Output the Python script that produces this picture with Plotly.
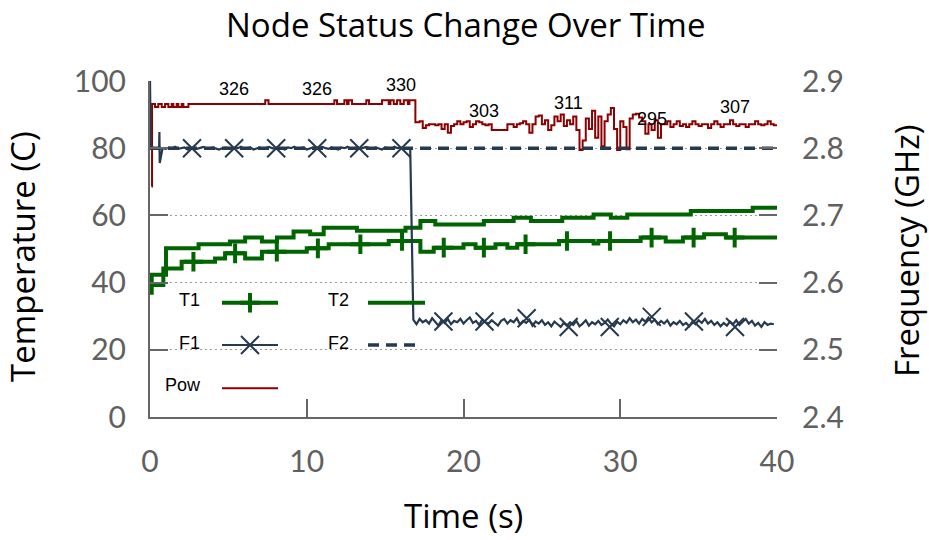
import numpy as np
import plotly.graph_objects as go

# ---------------- data ----------------
x_ticks = [0, 10, 20, 30, 40]
temp_ticks = [0, 20, 40, 60, 80, 100]
freq_ticks = [2.4, 2.5, 2.6, 2.7, 2.8, 2.9]

# Temperature T1 (step) and T2 (step), deg C
t1_time = [0, 0.85, 2.02, 4.15, 4.79, 6.07, 7.14, 10.0, 11.4, 15.23, 17.25, 18.1, 20.0, 20.77,
           22.04, 22.8, 23.43, 26.1, 28.3, 28.6, 31.3, 32.9, 34.0, 35.35, 36.74, 40.0]
t1_temp = [39.3, 44.2, 46.2, 47.2, 48.7, 47.2, 49.2, 50.2, 51.4, 52.4, 49.2, 50.4, 51.4, 50.4,
           51.4, 50.4, 51.4, 52.4, 51.6, 52.4, 53.4, 52.2, 53.4, 54.4, 53.4, 53.4]
t1_marker_time = [0.11, 2.77, 5.43, 8.09, 10.71, 13.42, 16.08, 18.74, 21.3, 23.96, 26.6,
                  29.35, 32.0, 34.68, 37.3]

t2_time = [0, 1.02, 3.1, 5.1, 6.07, 7.14, 8.1, 9.16, 10.22, 11.08, 13.2, 16.3, 17.25, 18.2,
           21.3, 23.2, 24.3, 26.3, 28.3, 29.4, 30.45, 34.5, 38.45, 40.0]
t2_temp = [42.3, 50.2, 51.4, 52.2, 53.4, 52.2, 53.4, 55.2, 54.4, 56.3, 55.4, 56.3, 58.3, 57.3,
           58.3, 59.3, 58.3, 59.3, 60.3, 59.3, 60.3, 61.3, 62.3, 62.3]

# Frequency F1 (GHz): start transient, then samples every 0.2 s
f1_time_head = [0.0, 0.05, 0.58, 0.60, 0.62]
f1_ghz_head = [2.900, 2.800, 2.800, 2.824, 2.778]
f1_sample_start = 0.8
f1_sample_step = 0.2
f1_ghz_samples = [
    2.800, 2.799, 2.801, 2.800, 2.802,
    2.799, 2.800, 2.801, 2.798, 2.800, 2.801, 2.799, 2.800, 2.802, 2.800,
    2.799, 2.801, 2.800, 2.798, 2.800, 2.801, 2.800, 2.799, 2.801, 2.800,
    2.802, 2.799, 2.800, 2.801, 2.798, 2.800, 2.801, 2.799, 2.800, 2.802,
    2.800, 2.799, 2.801, 2.800, 2.798, 2.801, 2.800, 2.802, 2.799, 2.800,
    2.801, 2.798, 2.800, 2.801, 2.799, 2.800, 2.802, 2.800, 2.799, 2.801,
    2.800, 2.798, 2.801, 2.800, 2.802, 2.799, 2.800, 2.801, 2.799, 2.800,
    2.802, 2.800, 2.799, 2.801, 2.800, 2.798, 2.801, 2.800, 2.799, 2.802,
    2.800, 2.801, 2.799, 2.800, 2.800,
    2.545, 2.538, 2.546, 2.541, 2.544, 2.539, 2.547, 2.542, 2.536, 2.544,
    2.540, 2.546, 2.538, 2.543, 2.541, 2.546, 2.539, 2.544, 2.548, 2.540,
    2.543, 2.537, 2.545, 2.541, 2.539, 2.544, 2.540, 2.536, 2.543, 2.546,
    2.539, 2.544, 2.541, 2.547, 2.538, 2.543, 2.540, 2.545, 2.536, 2.542,
    2.539, 2.544, 2.537, 2.541, 2.535, 2.542, 2.538, 2.534, 2.540, 2.536,
    2.541, 2.537, 2.543, 2.535, 2.539, 2.544, 2.536, 2.541, 2.538, 2.543,
    2.537, 2.540, 2.545, 2.539, 2.535, 2.542, 2.538, 2.544, 2.540, 2.547,
    2.541, 2.545, 2.539, 2.546, 2.542, 2.548, 2.541, 2.545, 2.538, 2.543,
    2.539, 2.544, 2.536, 2.541, 2.538, 2.543, 2.537, 2.540, 2.535, 2.542,
    2.538, 2.544, 2.540, 2.546, 2.539, 2.543, 2.537, 2.541, 2.535, 2.540,
    2.536, 2.542, 2.538, 2.544, 2.537, 2.541, 2.546, 2.539, 2.543, 2.536,
    2.540, 2.534, 2.541, 2.537, 2.539, 2.538,
]
f1_marker_time = [2.68, 5.37, 8.05, 10.67, 13.35, 16.04, 18.72, 21.34, 24.03, 26.71, 29.33,
                  32.01, 34.70, 37.32]
f1_marker_ghz = [2.8, 2.8, 2.8, 2.8, 2.8, 2.8, 2.542, 2.542, 2.547, 2.534, 2.534, 2.549,
                 2.542, 2.534]

# Frequency F2 (constant)
f2_time = [0, 40]
f2_ghz = [2.8, 2.8]

# Power (W), step trace; plotted as W / 3.5 on the temperature axis
power_scale = 3.5
pow_time_head = [0.10, 0.13, 0.32, 0.53, 0.75, 0.96, 1.17, 1.38, 1.49, 1.70, 1.81, 2.02, 2.13,
                 2.45, 7.35, 7.56, 11.76, 11.93, 12.40, 12.57, 12.67, 12.89, 13.80, 13.97,
                 14.80, 15.23, 15.34, 15.55, 15.76, 15.97, 16.19, 16.45, 16.55, 16.93]
pow_watts_head = [240, 326, 323, 326, 323, 326, 323, 326, 323, 326, 323, 326, 323,
                  326, 330, 326, 330, 326, 330, 326, 330, 326, 330, 326,
                  330, 326, 330, 326, 330, 326, 330, 326, 330, 307]
pow_tail_start = 17.0
pow_tail_step = 0.2
pow_watts_tail = [
    307, 308, 301, 304, 305, 305, 304, 305, 300, 305,
    296, 303, 305, 308, 305, 307, 308, 302, 305, 308,
    307, 305, 304, 305, 299, 299, 299, 299, 299, 305,
    305, 302, 305, 306, 308, 305, 296, 305, 313, 314,
    305, 309, 299, 304, 313, 308, 315, 303, 309, 305,
    313, 299, 278, 288, 311, 300, 319, 291, 313, 282,
    308, 315, 322, 300, 278, 308, 302, 279, 311, 315,
    316, 312, 308, 295, 305, 299, 309, 291, 305, 305,
    308, 302, 305, 308, 303, 305, 302, 305, 308, 305,
    303, 305, 305, 301, 305, 308, 305, 302, 305, 305,
    309, 305, 303, 305, 305, 302, 305, 305, 308, 305,
    304, 305, 308, 305, 304, 305,
]
pow_label_time = [5.33, 10.67, 16.0, 21.33, 26.67, 32.0, 37.33]
pow_label_watts = [326, 326, 330, 303, 311, 295, 307]

# ---------------- styling ----------------
GREEN = "#006400"
SLATE = "#263a4f"
RED = "#8b0000"
AXIS = "#666666"
TICKC = "#606060"
FONT = "Lato"
TITLEFONT = "Open Sans"
LEGFONT = "Liberation Sans"
TSIZE = 33

W, H = 929, 540
L, R, T, B = 150, 152, 81, 123
PW, PH = W - L - R, H - T - B


def px(xpix):
    return (xpix - L) / PW


def py(ypix):
    return (H - B - ypix) / PH


f1_time = f1_time_head + list(np.round(f1_sample_start + np.arange(len(f1_ghz_samples)) * f1_sample_step, 3))
f1_ghz = f1_ghz_head + f1_ghz_samples
pow_time = pow_time_head + list(np.round(pow_tail_start + np.arange(len(pow_watts_tail)) * pow_tail_step, 3))
pow_watts = pow_watts_head + pow_watts_tail
pow_scaled = [w / power_scale for w in pow_watts]

idx = np.searchsorted(np.array(t1_time), np.array(t1_marker_time), side="right") - 1
t1_marker_temp = [t1_temp[i] for i in idx]

fig = go.Figure()

fig.add_trace(go.Scatter(x=t1_time, y=t1_temp, mode="lines", line=dict(color=GREEN, width=4, shape="hv")))
fig.add_trace(go.Scatter(x=t1_marker_time, y=t1_marker_temp, mode="markers",
                         marker=dict(symbol="cross-thin", size=14, line=dict(color=GREEN, width=4))))
fig.add_trace(go.Scatter(x=t2_time, y=t2_temp, mode="lines", line=dict(color=GREEN, width=4, shape="hv")))
fig.add_trace(go.Scatter(x=f1_time, y=f1_ghz, yaxis="y2", mode="lines", line=dict(color=SLATE, width=2.2)))
fig.add_trace(go.Scatter(x=f1_marker_time, y=f1_marker_ghz, yaxis="y2", mode="markers",
                         marker=dict(symbol="x-thin", size=18, line=dict(color=SLATE, width=2))))
fig.add_trace(go.Scatter(x=f2_time, y=f2_ghz, yaxis="y2", mode="lines",
                         line=dict(color=SLATE, width=3.5, dash="11px,7px")))
fig.add_trace(go.Scatter(x=pow_time, y=pow_scaled, mode="lines", line=dict(color=RED, width=2, shape="hv")))

# power labels
annotations = []
for tx, w in zip(pow_label_time, pow_label_watts):
    annotations.append(dict(x=tx, y=w / power_scale, xref="x", yref="y", text=str(w), showarrow=False,
                            yshift=15, font=dict(family=LEGFONT, size=18, color="black")))

# ---- legend (drawn on a helper overlay axis) ----
legend_rows = [
    ("T1", 202, 300, 222, 278, 302.7, dict(color=GREEN, width=4), "cross-thin", 14, 4, GREEN),
    ("T2", 351, 300, 368, 425, 302.7, dict(color=GREEN, width=4), None, 0, 0, GREEN),
    ("F1", 202, 343, 222, 278, 345, dict(color=SLATE, width=2), "x-thin", 18, 2, SLATE),
    ("F2", 351, 343, 368, 416, 345, dict(color=SLATE, width=3.5, dash="11px,7px"), None, 0, 0, SLATE),
    ("Pow", 203, 385, 222, 278, 388.3, dict(color=RED, width=2), None, 0, 0, RED),
]
for name, tx, ty, x0, x1, ly, lstyle, sym, msz, mw, mc in legend_rows:
    fig.add_trace(go.Scatter(x=[px(x0), px(x1)], y=[py(ly), py(ly)], xaxis="x3", yaxis="y3",
                             mode="lines", line=lstyle))
    if sym:
        fig.add_trace(go.Scatter(x=[px((x0 + x1) / 2)], y=[py(ly)], xaxis="x3", yaxis="y3",
                                 mode="markers", marker=dict(symbol=sym, size=msz, line=dict(color=mc, width=mw))))
    annotations.append(dict(x=px(tx), y=py(ty), xref="paper", yref="paper", text=name, showarrow=False,
                            xanchor="right", yanchor="middle", font=dict(family=LEGFONT, size=18, color="black")))

# titles
annotations += [
    dict(x=px(465), y=py(0), xref="paper", yref="paper", text="Node Status Change Over Time",
         showarrow=False, xanchor="center", yanchor="top", font=dict(family=TITLEFONT, size=TSIZE, color="black")),
    dict(x=px(22), y=py(257), xref="paper", yref="paper", text="Temperature (C)", textangle=-90,
         showarrow=False, xanchor="center", yanchor="middle", font=dict(family=TITLEFONT, size=TSIZE, color="black")),
    dict(x=px(906), y=py(251), xref="paper", yref="paper", text="Frequency (GHz)", textangle=-90,
         showarrow=False, xanchor="center", yanchor="middle", font=dict(family=TITLEFONT, size=TSIZE, color="black")),
    dict(x=px(463), y=py(540), xref="paper", yref="paper", text="Time (s)",
         showarrow=False, xanchor="center", yanchor="bottom", font=dict(family=TITLEFONT, size=TSIZE, color="black")),
]

shapes = [dict(type="rect", xref="paper", yref="paper", x0=px(169), x1=px(441), y0=py(400), y1=py(292),
               fillcolor="white", line=dict(width=0), layer="between")]

tickfont = dict(family=FONT, size=30, color=TICKC)
fig.update_layout(
    width=W, height=H, margin=dict(l=L, r=R, t=T, b=B),
    paper_bgcolor="white", plot_bgcolor="white", showlegend=False,
    xaxis=dict(range=[0, 40], tickvals=x_ticks, ticks="inside", ticklen=18, tickwidth=2, tickcolor=AXIS,
               showline=True, linecolor=AXIS, linewidth=2, showgrid=False, zeroline=False,
               tickfont=tickfont, ticklabelstandoff=17),
    yaxis=dict(range=[0, 100], tickvals=temp_ticks, ticks="inside", ticklen=18, tickwidth=2, tickcolor=AXIS,
               showline=True, linecolor=AXIS, linewidth=2, showgrid=True, gridcolor="#9a9a9a",
               griddash="2px,3px", gridwidth=1.2, zeroline=False, tickfont=tickfont, ticklabelstandoff=16),
    yaxis2=dict(overlaying="y", side="right", anchor="x", range=[2.4, 2.9], tickvals=freq_ticks,
                ticktext=[f"{v:.1f}" for v in freq_ticks], ticks="inside", ticklen=18, tickwidth=2,
                tickcolor=AXIS, showline=False, showgrid=False, zeroline=False, tickfont=tickfont,
                ticklabelstandoff=24),
    xaxis3=dict(overlaying="x", range=[0, 1], visible=False, anchor="y3"),
    yaxis3=dict(overlaying="y", range=[0, 1], visible=False, anchor="x3"),
    annotations=annotations, shapes=shapes,
)

fig.write_html("out.html")
